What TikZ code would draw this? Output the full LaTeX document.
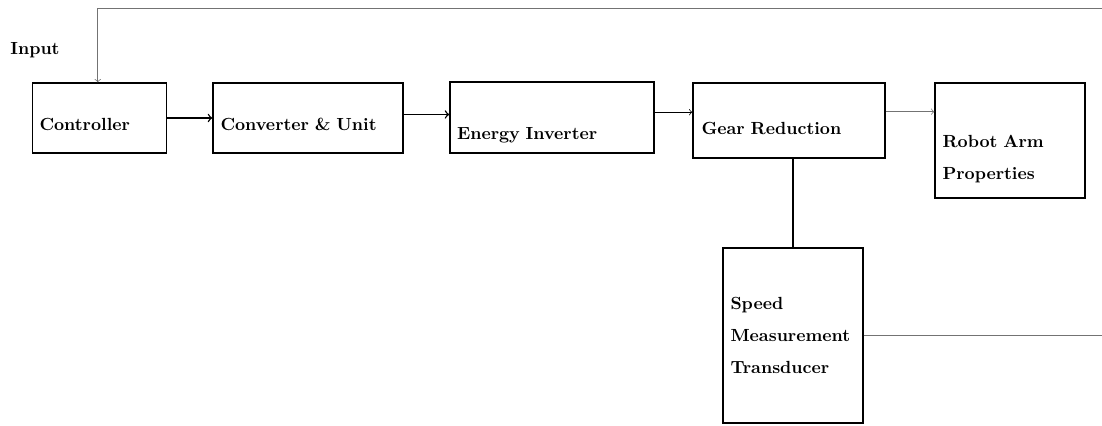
\documentclass[tikz,border=0pt]{standalone}
\usepackage{amsmath}
\usepackage{xcolor}
\usepackage{tikz}
\definecolor{linecol}{rgb}{0.45,0.45,0.45}

\begin{document}
\begin{tikzpicture}[every node/.style={font=\normalsize\bfseries},
    blockbox/.style={draw,thick,align=left,inner sep=4pt}]
  \useasboundingbox (0,0) rectangle (22.04,8.52);
  \clip (0,0) rectangle (22.04,8.52);
  \node[blockbox,minimum width=2.66cm,minimum height=1.40cm,text width=2.4cm] (ctrl) at (1.99,6.16) {\rule{0pt}{0.5cm}Controller};
  \node[blockbox,minimum width=3.80cm,minimum height=1.40cm,text width=3.5cm] (conv) at (6.16,6.16) {\rule{0pt}{0.5cm}Converter \& Unit};
  \node[blockbox,minimum width=4.00cm,minimum height=1.42cm,text width=3.8cm] (inv) at (11.04,6.17) {\rule{0pt}{0.95cm}Energy Inverter};
  \node[blockbox,minimum width=3.84cm,minimum height=1.50cm,text width=3.5cm] (gear) at (15.78,6.11) {\rule{0pt}{0.55cm}Gear Reduction};
  \node[blockbox,minimum width=3.00cm,minimum height=2.30cm,text width=2.7cm] (robot) at (20.20,5.71) {\rule{0pt}{1.0cm}Robot Arm\\[6pt] Properties};
  \node[blockbox,minimum width=2.80cm,minimum height=3.50cm,text width=2.5cm] (sens) at (15.86,1.81) {Speed\\[6pt] Measurement\\[6pt] Transducer};
  \node (inp) at (0.70,7.52) {Input};
  % forward path
  \draw[->,thick] (ctrl.east) -- (ctrl.east -| conv.west);
  \draw[->,thick] ([yshift=2pt]conv.east) -- ([yshift=2pt]conv.east -| inv.west);
  \draw[->] ([yshift=3pt]inv.east) -- ([yshift=3pt]inv.east -| gear.west);
  \draw[->,linecol] ([yshift=5pt]gear.east) -- ([yshift=5pt]gear.east -| robot.west);
  \draw[thick] (sens.north |- gear.south) -- (sens.north);
  % feedback loop
  \coordinate (fbtop) at (22.6,8.36);
  \draw[->,linecol] (sens.east) -| (fbtop) -| ([xshift=-1pt]ctrl.north);
\end{tikzpicture}
\end{document}
